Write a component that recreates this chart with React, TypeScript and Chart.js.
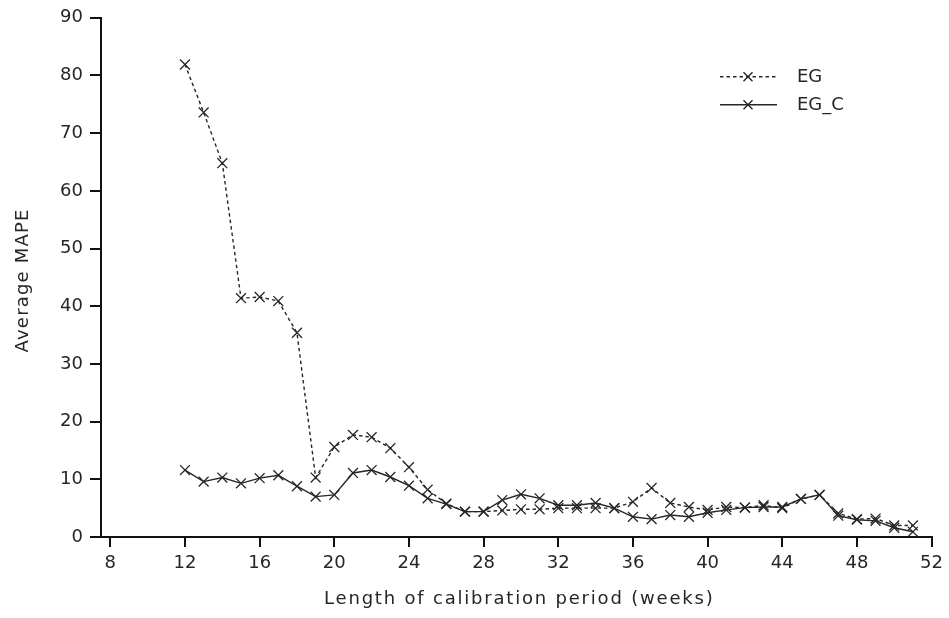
import React, { useEffect, useRef } from "react";
import { Chart, registerables } from "chart.js";

Chart.register(...registerables);

const weeks = [12,13,14,15,16,17,18,19,20,21,22,23,24,25,26,27,28,29,30,31,32,33,34,35,36,37,38,39,40,41,42,43,44,45,46,47,48,49,50,51];
const egValues = [81.9,73.6,64.8,41.4,41.6,40.9,35.4,10.3,15.6,17.7,17.3,15.4,12.1,8.2,5.8,4.4,4.4,4.6,4.8,4.8,5.0,5.0,5.0,5.0,6.1,8.5,5.9,5.2,4.7,5.2,5.1,5.5,5.0,6.6,7.3,4.1,3.1,3.2,2.0,2.0];
const egcValues = [11.6,9.6,10.3,9.3,10.2,10.7,8.8,7.0,7.3,11.1,11.6,10.4,8.9,6.7,5.7,4.4,4.4,6.4,7.4,6.7,5.5,5.5,5.9,5.0,3.5,3.1,3.8,3.5,4.2,4.7,5.1,5.2,5.2,6.6,7.3,3.7,3.0,2.8,1.6,0.9];
const xTicks = [8,12,16,20,24,28,32,36,40,44,48,52];
const seriesNames = ["EG", "EG_C"];
const xTitle = "Length of calibration period (weeks)";
const yTitle = "Average MAPE";

const INK = "#262626";
const FONT = "'DejaVu Sans', sans-serif";

const crossAt = (ctx: any, cx: number, cy: number, r: number) => {
  ctx.beginPath();
  ctx.moveTo(cx - r, cy - r); ctx.lineTo(cx + r, cy + r);
  ctx.moveTo(cx - r, cy + r); ctx.lineTo(cx + r, cy - r);
  ctx.stroke();
};

const annotationPlugin = {
  id: "titlesAndLegend",
  afterDraw(chart: any) {
    const ctx = chart.ctx;
    const area = chart.chartArea;
    ctx.save();
    ctx.fillStyle = INK;
    ctx.font = `18px ${FONT}`;
    // x title
    ctx.textAlign = "center";
    ctx.textBaseline = "alphabetic";
    (ctx as any).letterSpacing = "1.8px";
    ctx.fillText(xTitle, (area.left + area.right) / 2 + 3, area.bottom + 67);
    // y title
    (ctx as any).letterSpacing = "1.2px";
    ctx.translate(28, (area.top + area.bottom) / 2 + 3);
    ctx.rotate(-Math.PI / 2);
    ctx.fillText(yTitle, 0, 0);
    ctx.restore();

    // legend
    const x0 = area.left + 619;
    const y0 = area.top + 59;
    chart.data.datasets.forEach((ds: any, i: number) => {
      const y = y0 + i * 28;
      ctx.save();
      ctx.strokeStyle = INK;
      ctx.lineWidth = 1.4;
      ctx.setLineDash(ds.borderDash || []);
      ctx.beginPath();
      ctx.moveTo(x0, y);
      ctx.lineTo(x0 + 57, y);
      ctx.stroke();
      ctx.setLineDash([]);
      crossAt(ctx, x0 + 28, y, 4.5);
      ctx.fillStyle = INK;
      ctx.font = `18px ${FONT}`;
      ctx.textBaseline = "middle";
      ctx.textAlign = "left";
      ctx.fillText(ds.label, x0 + 77, y + 1);
      ctx.restore();
    });
  },
};

export default function App() {
  const ref = useRef<HTMLCanvasElement | null>(null);
  useEffect(() => {
    const canvas = ref.current;
    if (!canvas) return;
    const chart = new Chart(canvas, {
      type: "line",
      data: {
        datasets: [
          {
            label: seriesNames[0],
            data: weeks.map((w, i) => ({ x: w, y: egValues[i] })),
            borderColor: INK,
            backgroundColor: INK,
            borderWidth: 1.4,
            borderDash: [3.5, 3],
            pointStyle: "crossRot",
            pointRadius: 7,
            pointBorderWidth: 1.3,
            tension: 0,
          },
          {
            label: seriesNames[1],
            data: weeks.map((w, i) => ({ x: w, y: egcValues[i] })),
            borderColor: INK,
            backgroundColor: INK,
            borderWidth: 1.4,
            pointStyle: "crossRot",
            pointRadius: 7,
            pointBorderWidth: 1.3,
            tension: 0,
          },
        ],
      },
      options: {
        animation: false,
        responsive: false,
        maintainAspectRatio: false,
        layout: { padding: { left: 0, right: 13, top: 17, bottom: 0 } },
        plugins: { legend: { display: false }, tooltip: { enabled: false } },
        scales: {
          x: {
            type: "linear",
            min: 7.5,
            max: 52,
            afterBuildTicks: (scale: any) => {
              scale.ticks = xTicks.map((v) => ({ value: v }));
            },
            afterFit: (scale: any) => {
              scale.height = 81;
            },
            grid: { display: true, drawOnChartArea: false, drawTicks: true, tickLength: 10, color: "#111", lineWidth: 2 },
            border: { display: true, color: "#111", width: 2 },
            ticks: { color: INK, font: { family: FONT, size: 18 }, padding: 6, autoSkip: false, maxRotation: 0 },
          },
          y: {
            min: 0,
            max: 90,
            afterFit: (scale: any) => {
              scale.width = 101;
            },
            ticks: { stepSize: 10, color: INK, font: { family: FONT, size: 18 }, padding: 7 },
            grid: { display: true, drawOnChartArea: false, drawTicks: true, tickLength: 11, color: "#111", lineWidth: 2 },
            border: { display: true, color: "#111", width: 2 },
          },
        },
      },
      plugins: [annotationPlugin],
    });
    return () => chart.destroy();
  }, []);
  return (
    <div style={{ position: "fixed", left: 0, top: 0, width: 949, height: 618, background: "#fff" }}>
      <canvas ref={ref} width={949} height={618} style={{ display: "block" }} />
    </div>
  );
}
